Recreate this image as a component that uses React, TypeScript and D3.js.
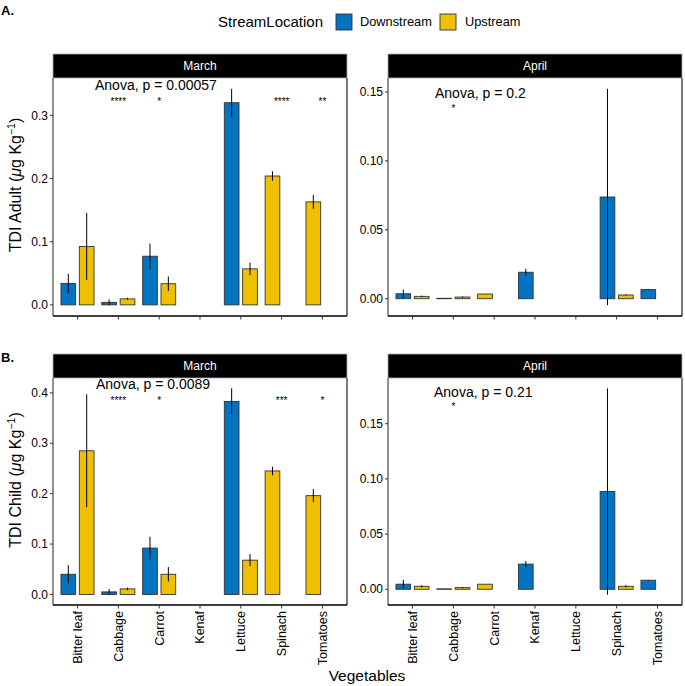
import React from "react";
import * as d3 from "d3";

const vegetables = ["Bitter leaf", "Cabbage", "Carrot", "Kenaf", "Lettuce", "Spinach", "Tomatoes"];
const locations = ["Downstream", "Upstream"];
const colors: Record<string, string> = { Downstream: "#0073C2", Upstream: "#EFC000" };

// TDI Adult, March
const adultMarchDown = [0.034, 0.004, 0.077, null, 0.32, null, null];
const adultMarchDownSe = [0.015, 0.0045, 0.02, null, 0.022, null, null];
const adultMarchUp = [0.0925, 0.0095, 0.0335, null, 0.057, 0.204, 0.163];
const adultMarchUpSe = [0.053, 0.0015, 0.0115, null, 0.01, 0.0075, 0.011];
// TDI Adult, April
const adultAprilDown = [0.0036, 0.0003, null, 0.0192, null, 0.0738, 0.0066];
const adultAprilDownSe = [0.003, 0.0001, null, 0.0025, null, 0.0785, 0.0003];
const adultAprilUp = [0.0017, 0.0012, 0.0034, null, null, 0.0027, null];
const adultAprilUpSe = [0.0005, 0.0004, 0.0001, null, null, 0.0004, null];
// TDI Child, March
const childMarchDown = [0.04, 0.005, 0.092, null, 0.383, null, null];
const childMarchDownSe = [0.018, 0.0055, 0.0225, null, 0.026, null, null];
const childMarchUp = [0.285, 0.011, 0.04, null, 0.068, 0.245, 0.196];
const childMarchUpSe = [0.112, 0.0025, 0.0143, null, 0.012, 0.0085, 0.013];
// TDI Child, April
const childAprilDown = [0.0046, 0.0004, null, 0.0228, null, 0.0886, 0.0082];
const childAprilDownSe = [0.004, 0.0001, null, 0.0028, null, 0.0935, 0.0003];
const childAprilUp = [0.0027, 0.0015, 0.0046, null, null, 0.0027, null];
const childAprilUpSe = [0.001, 0.0005, 0.0001, null, null, 0.001, null];

const sigAdultMarch = ["", "****", "*", "", "", "****", "**"];
const sigAdultApril = ["", "*", "", "", "", "", ""];
const sigChildMarch = ["", "****", "*", "", "", "***", "*"];
const sigChildApril = ["", "*", "", "", "", "", ""];

const anovaLabels = ["Anova, p = 0.00057", "Anova, p = 0.2", "Anova, p = 0.0089", "Anova, p = 0.21"];
const anovaY = [0.348, 0.149, 0.4165, 0.179];
const sigY = [0.326, 0.14, 0.39, 0.168];

const FONT = "'Liberation Sans', Arial, Helvetica, sans-serif";

type PanelData = {
  title: string;
  mean: Record<string, (number | null)[]>;
  se: Record<string, (number | null)[]>;
  sig: string[];
  anova: string;
  anovaY: number;
  sigY: number;
  anovaDx: number;
};

const panels: PanelData[] = [
  { title: "March", mean: { Downstream: adultMarchDown, Upstream: adultMarchUp }, se: { Downstream: adultMarchDownSe, Upstream: adultMarchUpSe }, sig: sigAdultMarch, anova: anovaLabels[0], anovaY: anovaY[0], sigY: sigY[0], anovaDx: 42 },
  { title: "April", mean: { Downstream: adultAprilDown, Upstream: adultAprilUp }, se: { Downstream: adultAprilDownSe, Upstream: adultAprilUpSe }, sig: sigAdultApril, anova: anovaLabels[1], anovaY: anovaY[1], sigY: sigY[1], anovaDx: 47 },
  { title: "March", mean: { Downstream: childMarchDown, Upstream: childMarchUp }, se: { Downstream: childMarchDownSe, Upstream: childMarchUpSe }, sig: sigChildMarch, anova: anovaLabels[2], anovaY: anovaY[2], sigY: sigY[2], anovaDx: 43 },
  { title: "April", mean: { Downstream: childAprilDown, Upstream: childAprilUp }, se: { Downstream: childAprilDownSe, Upstream: childAprilUpSe }, sig: sigChildApril, anova: anovaLabels[3], anovaY: anovaY[3], sigY: sigY[3], anovaDx: 46 },
];

function Panel({ p, x0, x1, top, bottom, xLabels }: { p: PanelData; x0: number; x1: number; top: number; bottom: number; xLabels: boolean }) {
  const stripH = 24;
  const plotTop = top + stripH;
  const x = d3.scalePoint<string>().domain(vegetables).range([x0, x1]).padding(0.6);
  const step = x.step();

  const vals: number[] = [0];
  locations.forEach((l) =>
    p.mean[l].forEach((m, i) => {
      if (m != null) {
        const s = p.se[l][i] || 0;
        vals.push(m - s, m + s);
      }
    })
  );
  const [lo, hi] = d3.extent(vals) as [number, number];
  const R = hi - lo;
  const y = d3.scaleLinear().domain([lo - 0.05 * R, hi + 0.05 * R]).range([bottom, plotTop]);
  const ticks = y.ticks(4).filter((t) => t >= 0);
  const fmt = y.tickFormat(4);
  const barW = 0.36 * step;

  const bars: any[] = [];
  vegetables.forEach((v, i) => {
    // preserve = "single": lone bars take the left slot
    const present = locations.filter((l) => p.mean[l][i] != null);
    present.forEach((l, k) => {
      const cx = (x(v) as number) + (k - 0.5) * 0.45 * step;
      bars.push({ key: v + l, cx, m: p.mean[l][i] as number, s: (p.se[l][i] || 0) as number, l });
    });
  });

  return (
    <g>
      <rect x={x0} y={top} width={x1 - x0} height={stripH} fill="#000" stroke="#aaa" strokeWidth={0.8} />
      <text x={(x0 + x1) / 2} y={top + stripH / 2} dy="0.35em" textAnchor="middle" fill="#fff" fontSize={12} fontFamily={FONT}>
        {p.title}
      </text>
      {bars.map((b) => (
        <g key={b.key}>
          <rect x={b.cx - barW / 2} y={y(b.m)} width={barW} height={Math.max(0, y(0) - y(b.m))} fill={colors[b.l]} stroke="#333" strokeWidth={0.9} />
          <line x1={b.cx} x2={b.cx} y1={y(b.m - b.s)} y2={y(b.m + b.s)} stroke="#000" strokeWidth={1} />
        </g>
      ))}
      <text x={x0 + p.anovaDx} y={y(p.anovaY)} dy="0.35em" fontSize={14} fontFamily={FONT} fill="#000">
        {p.anova}
      </text>
      {p.sig.map((s, i) =>
        s ? (
          <text key={i} x={x(vegetables[i])} y={y(p.sigY)} dy="0.6em" textAnchor="middle" fontSize={10} fontFamily={FONT} fill="#000">
            {s}
          </text>
        ) : null
      )}
      <line x1={x0} x2={x0} y1={plotTop} y2={bottom} stroke="#222" strokeWidth={1} />
      <line x1={x1} x2={x1} y1={plotTop} y2={bottom} stroke="#222" strokeWidth={1.2} />
      <line x1={x0} x2={x1} y1={bottom} y2={bottom} stroke="#000" strokeWidth={1.4} />
      {ticks.map((t) => (
        <g key={t}>
          <line x1={x0 - 3} x2={x0} y1={y(t)} y2={y(t)} stroke="#333" />
          <text x={x0 - 5} y={y(t)} dy="0.35em" textAnchor="end" fontSize={12} fontFamily={FONT} fill="#000">
            {fmt(t)}
          </text>
        </g>
      ))}
      {vegetables.map((v) => (
        <g key={v}>
          <line x1={x(v)} x2={x(v)} y1={bottom} y2={bottom + 3.5} stroke="#333" />
          {xLabels ? (
            <text transform={`translate(${x(v)},${bottom + 6}) rotate(-90)`} dy="0.35em" textAnchor="end" fontSize={12.5} fontFamily={FONT} fill="#000">
              {v}
            </text>
          ) : null}
        </g>
      ))}
    </g>
  );
}

function YTitle({ label, cy }: { label: string; cy: number }) {
  return (
    <text transform={`translate(15,${cy}) rotate(-90)`} textAnchor="middle" dy="0.35em" fontSize={16} fontFamily={FONT} fill="#000">
      {label} (<tspan fontStyle="italic">μ</tspan>g Kg<tspan dy="-6" fontSize={10.5}>−1</tspan>
      <tspan dy="6">)</tspan>
    </text>
  );
}

export default function App() {
  const L = [53, 347];
  const Rg = [388, 682];
  return (
    <svg width={685} height={686} style={{ position: "absolute", left: 0, top: 0, background: "#fff" }}>
      <text x={1} y={15} fontSize={13} fontWeight="bold" fontFamily={FONT}>A.</text>
      <text x={1} y={362} fontSize={13} fontWeight="bold" fontFamily={FONT}>B.</text>
      <text x={218} y={22} dy="0.35em" fontSize={15} fontFamily={FONT}>StreamLocation</text>
      {locations.map((l, i) => (
        <g key={l}>
          <rect x={[336, 440][i]} y={14} width={16} height={16} fill={colors[l]} stroke="#333" strokeWidth={0.9} />
          <text x={[360, 465][i]} y={22} dy="0.35em" fontSize={12.8} fontFamily={FONT}>{l}</text>
        </g>
      ))}
      <Panel p={panels[0]} x0={L[0]} x1={L[1]} top={54} bottom={316} xLabels={false} />
      <Panel p={panels[1]} x0={Rg[0]} x1={Rg[1]} top={54} bottom={316} xLabels={false} />
      <Panel p={panels[2]} x0={L[0]} x1={L[1]} top={354} bottom={605} xLabels={true} />
      <Panel p={panels[3]} x0={Rg[0]} x1={Rg[1]} top={354} bottom={605} xLabels={true} />
      <YTitle label="TDI Adult" cy={185} />
      <YTitle label="TDI Child" cy={480} />
      <text x={367} y={681} textAnchor="middle" fontSize={15.5} fontFamily={FONT}>Vegetables</text>
    </svg>
  );
}
